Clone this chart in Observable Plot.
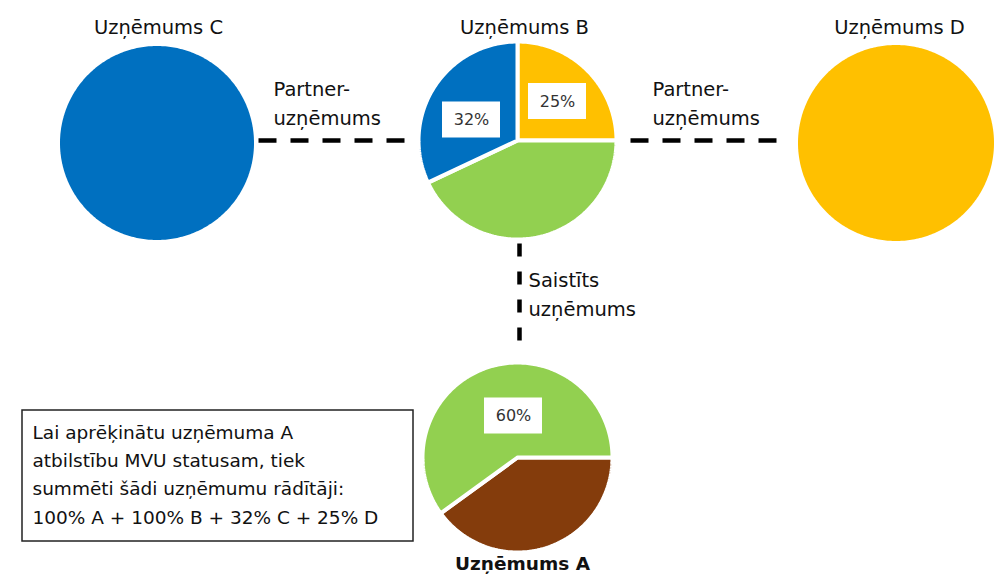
<!DOCTYPE html>
<html><head><meta charset="utf-8">
<script src="https://cdn.jsdelivr.net/npm/d3@7"></script>
<script src="https://cdn.jsdelivr.net/npm/@observablehq/plot@0.6"></script>
<style>body{margin:0;background:#fff}</style>
</head><body><div id="chart"></div>
<script>
// ---------- data ----------
const companies = ["C", "B", "D", "A"];
const companyTitles = ["Uzņēmums C", "Uzņēmums B", "Uzņēmums D", "Uzņēmums A"];
const sliceCompany = ["C", "B", "B", "B", "D", "A", "A"];
const sliceShare = [100, 25, 43, 32, 100, 40, 60];
const sliceColor = ["#0070C0", "#FFC000", "#92D050", "#0070C0", "#FFC000", "#843C0C", "#92D050"];
const shareLabelText = ["25%", "32%", "60%"];
const linkLabels = ["Partner-\nuzņēmums", "Partner-\nuzņēmums", "Saistīts\nuzņēmums"];
const noteLines = [
  "Lai aprēķinātu uzņēmuma A",
  "atbilstību MVU statusam, tiek",
  "summēti šādi uzņēmumu rādītāji:",
  "100% A + 100% B + 32% C + 25% D"
];

// ---------- layout (pixels) ----------
const pieLayout = {
  C: {cx: 156.5, cy: 142.5, r: 97, start: 0},
  B: {cx: 517, cy: 140, r: 97, start: 0},
  D: {cx: 895.5, cy: 142.5, r: 98, start: 0},
  A: {cx: 517, cy: 457, r: 93, start: 90}
};
const titlePos = {C: [158, 33], B: [524, 33], D: [899, 33], A: [522, 569]};
const shareLabelPos = [[557, 101], [471, 119.5], [513, 415.5]];
const labelBox = {w: 58, h: 36};
const linkPos = [[258, 140, 405, 140, "18,14"], [630, 140, 777, 140, "18,14"], [519, 243, 519, 350, "13,15"]];
const linkLabelPos = [[273, 124], [652, 124], [528, 315]];
const noteBox = {x1: 22, y1: 410, x2: 413, y2: 541, tx: 32, ty: 523};

// ---------- derived tables ----------
const slicePts = [];
const acc = {};
sliceCompany.forEach((c, i) => {
  const p = pieLayout[c];
  const full = sliceShare[i] >= 100;
  const before = acc[c] || 0;
  acc[c] = before + sliceShare[i];
  const a0 = p.start + before * 3.6, a1 = p.start + acc[c] * 3.6;
  const R = full ? p.r : p.r + 2;
  const base = {id: i, color: sliceColor[i], full};
  if (!full) slicePts.push({...base, x: p.cx, y: p.cy});
  const n = Math.ceil(a1 - a0);
  for (let k = 0; k <= n; k++) {
    const a = (a0 + (a1 - a0) * k / n) * Math.PI / 180;
    slicePts.push({...base, x: p.cx + R * Math.sin(a), y: p.cy - R * Math.cos(a)});
  }
  if (!full) slicePts.push({...base, x: p.cx, y: p.cy});
});

const titles = companies.map((c, i) => ({text: companyTitles[i], x: titlePos[c][0], y: titlePos[c][1], bold: c === "A"}));
const shareLabels = shareLabelText.map((t, i) => ({text: t, x: shareLabelPos[i][0], y: shareLabelPos[i][1]}));
const links = linkPos.map(([x1, y1, x2, y2, dash]) => ({x1, y1, x2, y2, dash}));
const linkTexts = linkLabels.map((t, i) => ({text: t, x: linkLabelPos[i][0], y: linkLabelPos[i][1]}));
const note = [{text: noteLines.join("\n"), x: noteBox.tx, y: noteBox.ty}];

const FONT = "DejaVu Sans";

const chart = Plot.plot({
  width: 995,
  height: 581,
  margin: 0,
  style: {fontFamily: FONT, background: "#fff"},
  x: {domain: [0, 995], range: [0, 995], axis: null},
  y: {domain: [0, 581], range: [0, 581], axis: null},
  color: {type: "identity"},
  marks: [
    Plot.line(slicePts.filter(d => d.full), {x: "x", y: "y", z: "id", fill: "color", stroke: "none", curve: "linear"}),
    Plot.line(slicePts.filter(d => !d.full), {x: "x", y: "y", z: "id", fill: "color", stroke: "#fff", strokeWidth: 4, strokeLinejoin: "miter", curve: "linear"}),
    Plot.rect(shareLabels, {x1: d => d.x - labelBox.w / 2, x2: d => d.x + labelBox.w / 2, y1: d => d.y - labelBox.h / 2, y2: d => d.y + labelBox.h / 2, fill: "#fff"}),
    Plot.text(shareLabels, {x: "x", y: "y", text: "text", fontSize: 16, fill: "#333", lineAnchor: "middle"}),
    ...links.map(l => Plot.link([l], {x1: "x1", y1: "y1", x2: "x2", y2: "y2", stroke: "#000", strokeWidth: 4.5, strokeDasharray: l.dash, strokeLinecap: "butt"})),
    Plot.text(titles.filter(d => !d.bold), {x: "x", y: "y", text: "text", fontSize: 19.5, fill: "#111", lineAnchor: "bottom"}),
    Plot.text(titles.filter(d => d.bold), {x: "x", y: "y", text: "text", fontSize: 18.5, fontWeight: "bold", fill: "#111", lineAnchor: "bottom"}),
    Plot.text(linkTexts, {x: "x", y: "y", text: "text", fontSize: 19.5, fill: "#111", textAnchor: "start", lineAnchor: "bottom", lineHeight: 1.45}),
    Plot.rect([noteBox], {x1: "x1", x2: "x2", y1: "y1", y2: "y2", fill: "none", stroke: "#222", strokeWidth: 1.5}),
    Plot.text(note, {x: "x", y: "y", text: "text", fontSize: 18.5, fill: "#111", textAnchor: "start", lineAnchor: "bottom", lineHeight: 1.53})
  ]
});
document.getElementById("chart").appendChild(chart);
</script>
</body></html>
